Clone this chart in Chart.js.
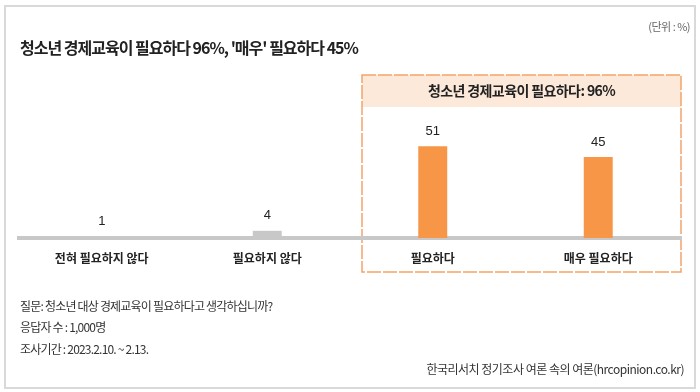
<!DOCTYPE html>
<html>
<head>
<meta charset="utf-8">
<script src="https://cdn.jsdelivr.net/npm/chart.js@4"></script>
<style>
  html, body { margin: 0; padding: 0; background: #fff; }
  #wrap { width: 700px; height: 392px; }
</style>
</head>
<body>
<div id="wrap"><canvas id="bar-chart"></canvas></div>
<script>
  // data
  var labels = ["전혀 필요하지 않다", "필요하지 않다", "필요하다", "매우 필요하다"];
  var values = [1, 4, 51, 45];
  var barColors = ["#c8c8c8", "#c8c8c8", "#f79646", "#f79646"];

  var title = "청소년 경제교육이 필요하다 96%, '매우' 필요하다 45%";
  var unitText = "(단위 : %)";
  var boxTitle = "청소년 경제교육이 필요하다: 96%";
  var notes = [
    "질문: 청소년 대상 경제교육이 필요하다고 생각하십니까?",
    "응답자 수 : 1,000명",
    "조사기간 : 2023.2.10. ~ 2.13."
  ];
  var source = "한국리서치 정기조사 여론 속의 여론(hrcopinion.co.kr)";

  var KR = "'Noto Sans CJK KR', 'Noto Sans', sans-serif";

  function txt(c, s, x, y, font, color, align, spacing) {
    c.font = font;
    c.fillStyle = color;
    c.textAlign = align || "left";
    c.textBaseline = "middle";
    c.letterSpacing = spacing || "0px";
    c.fillText(s, x, y);
  }

  // frame, highlight box and captions
  var decor = {
    id: "decor",
    beforeDraw: function (chart) {
      var c = chart.ctx;
      var area = chart.chartArea;
      var x = chart.scales.x;
      c.save();
      c.strokeStyle = "#d9d9d9";
      c.lineWidth = 2;
      c.strokeRect(5, 6, 690, 382);

      var left = x.getPixelForValue(1.5) + 12;
      var right = area.right;
      c.fillStyle = "#fde9da";
      c.fillRect(left, 75, right - left, 32);
      c.setLineDash([14, 2]);
      c.strokeStyle = "#f2a468";
      c.lineWidth = 1.5;
      c.strokeRect(left, 75, right - left, 197);
      c.setLineDash([]);

      txt(c, boxTitle, (left + right) / 2, 91, "bold 14px " + KR, "#222", "center", "-0.6px");
      txt(c, title, 20, 48, "bold 16px " + KR, "#222", "left", "-1px");
      txt(c, unitText, 690, 27, "11px " + KR, "#666", "right", "-0.5px");
      for (var i = 0; i < notes.length; i++) {
        txt(c, notes[i], 20, 306 + i * 21.5, "12px " + KR, "#333", "left", "-0.8px");
      }
      txt(c, source, 684, 369, "12px " + KR, "#333", "right", "-0.5px");
      c.restore();
    },
    afterDatasetsDraw: function (chart) {
      var c = chart.ctx;
      c.save();
      chart.getDatasetMeta(0).data.forEach(function (bar, i) {
        txt(c, String(values[i]), bar.x, bar.y - 15, "13px 'Liberation Sans', Arial, sans-serif", "#222", "center");
      });
      c.restore();
    }
  };

  var ctx = document.getElementById("bar-chart").getContext("2d");
  var myChart = new Chart(ctx, {
    type: "bar",
    data: {
      labels: labels,
      datasets: [
        {
          data: values,
          backgroundColor: barColors,
          categoryPercentage: 1,
          barPercentage: 0.175
        }
      ]
    },
    options: {
      responsive: true,
      maintainAspectRatio: false,
      animation: false,
      layout: { padding: { left: 19, right: 19, top: 130, bottom: 113.6 } },
      plugins: { legend: { display: false }, tooltip: { enabled: false } },
      scales: {
        x: {
          grid: { display: false, drawTicks: false },
          border: { color: "#c8c8c8", width: 4 },
          ticks: { color: "#222", padding: 13, font: { family: KR, size: 12, weight: "bold" } }
        },
        y: { display: false, min: 0, max: 60 }
      }
    },
    plugins: [decor]
  });
</script>
</body>
</html>
